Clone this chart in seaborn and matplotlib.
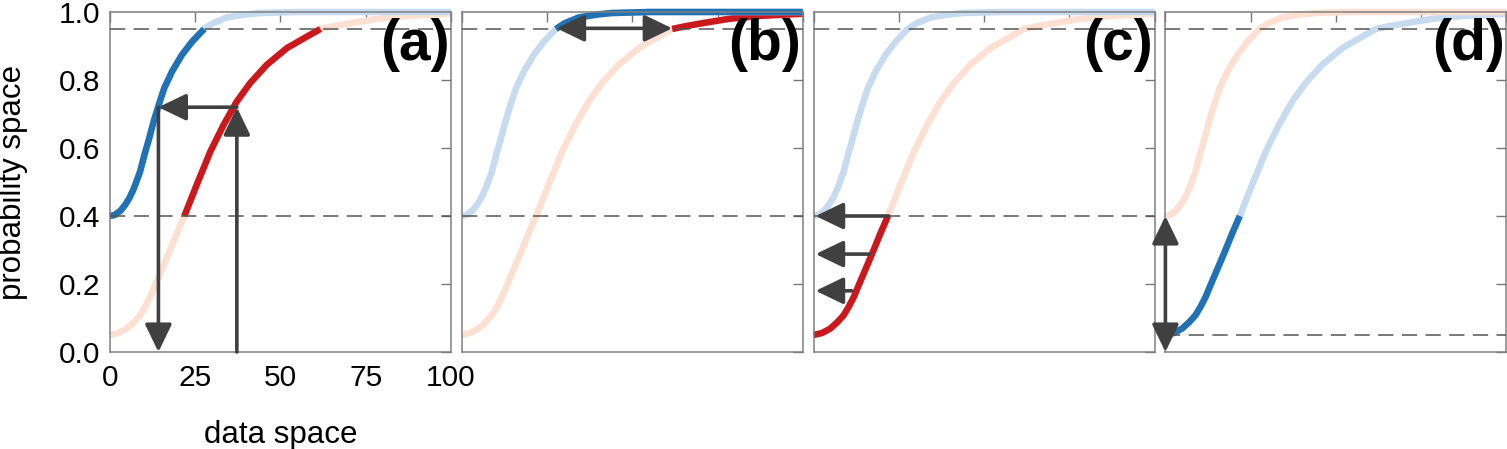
import numpy as np
import pandas as pd
import seaborn as sns
import matplotlib.pyplot as plt

# curve that starts at 0.4 (steep) and curve that starts at 0.05 (slow)
steep_x = [0, 1.4, 3, 4.4, 5.8, 7, 8.8, 10.1, 11.5, 12.8, 14.3, 15.9, 18.2, 21.1, 24.1, 27.6,
           30, 34.3, 40, 44, 55, 75, 100]
steep_y = [0.40, 0.403, 0.415, 0.432, 0.455, 0.481, 0.53, 0.58, 0.629, 0.678, 0.727, 0.776,
           0.825, 0.874, 0.913, 0.95, 0.966, 0.984, 0.993, 0.997, 1.0, 1.0, 1.0]

slow_x = [0, 2.5, 4.9, 7, 8.8, 10.3, 11.8, 13.2, 14.7, 17.2, 19.6, 21.8, 25.4, 29.4, 33.3,
          37.2, 41.1, 46, 51.9, 57.8, 61.7, 66, 70.5, 78.4, 88, 100]
slow_y = [0.05, 0.056, 0.069, 0.088, 0.108, 0.133, 0.162, 0.196, 0.231, 0.29, 0.349, 0.40,
          0.491, 0.589, 0.668, 0.737, 0.791, 0.845, 0.894, 0.928, 0.95, 0.959, 0.967, 0.98,
          0.989, 0.995]

panel_labels = ['(a)', '(b)', '(c)', '(d)']
x_ticks = [0, 25, 50, 75, 100]
y_ticks = [0.0, 0.2, 0.4, 0.6, 0.8, 1.0]

# dashed reference levels per panel
ref_levels = [[0.95, 0.4], [0.95, 0.4], [0.95, 0.4], [0.95, 0.05]]

# highlighted probability range per panel: (steep curve, slow curve)
highlight = [
    [(0.4, 0.95), (0.4, 0.95)],
    [(0.95, 1.0), (0.95, 1.0)],
    [None, (0.0, 0.4)],
    [None, (0.0, 0.4)],
]

# arrows per panel: (x_from, y_from, x_to, y_to, two_headed)
arrows = [
    [(37.2, 0.0, 37.2, 0.72, False), (37.2, 0.72, 14.2, 0.72, False), (14.2, 0.72, 14.2, 0.0, False)],
    [(27.8, 0.952, 61.7, 0.952, True)],
    [(22.0, 0.40, 0.6, 0.40, False), (16.4, 0.288, 0.6, 0.288, False), (11.2, 0.18, 0.6, 0.18, False)],
    [(0.0, 0.0, 0.0, 0.40, True)],
]

blue_dark, blue_light = '#2171b5', '#c6dbef'
red_dark, red_light = '#cb181d', '#fee0d2'

sns.set_style('white')
plt.rcParams['font.family'] = ['Liberation Sans', 'DejaVu Sans']
plt.rcParams['text.color'] = 'black'
plt.rcParams['axes.labelcolor'] = 'black'

steep = pd.DataFrame({'x': steep_x, 'y': steep_y})
slow = pd.DataFrame({'x': slow_x, 'y': slow_y})


def draw_curve(ax, df, light, dark, rng):
    sns.lineplot(data=df, x='x', y='y', ax=ax, color=light, linewidth=4.7,
                 estimator=None, sort=False, solid_capstyle='butt', clip_on=False)
    if rng is not None:
        sub = df[(df['y'] >= rng[0] - 1e-9) & (df['y'] <= rng[1] + 1e-9)]
        sns.lineplot(data=sub, x='x', y='y', ax=ax, color=dark, linewidth=4.7,
                     estimator=None, sort=False, solid_capstyle='butt', clip_on=False)


fig = plt.figure(figsize=(15.07, 4.49), dpi=100)
W, H = 1507, 449
for i in range(4):
    left = 110 + i * 351.8
    ax = fig.add_axes([left / W, 97 / H, 341 / W, 340 / H])
    if i < 3:
        steep_cols, slow_cols = (blue_light, blue_dark), (red_light, red_dark)
    else:
        steep_cols, slow_cols = (red_light, red_dark), (blue_light, blue_dark)
    draw_curve(ax, slow, slow_cols[0], slow_cols[1], highlight[i][1])
    draw_curve(ax, steep, steep_cols[0], steep_cols[1], highlight[i][0])

    for lv in ref_levels[i]:
        ax.axhline(lv, color='#555555', lw=1.1, linestyle=(0, (10, 5.5)), zorder=5)

    for (x0, y0, x1, y1, both) in arrows[i]:
        style = '<|-|>' if both else '-|>'
        ax.annotate('', xy=(x1, y1), xytext=(x0, y0), annotation_clip=False,
                    arrowprops=dict(arrowstyle=style + ',head_length=1.7,head_width=0.82',
                                    mutation_scale=10, color='#404040', lw=2.6,
                                    shrinkA=0, shrinkB=0), zorder=6)

    ax.text(0.996, 0.982, panel_labels[i], transform=ax.transAxes, ha='right', va='top',
            fontsize=41, fontweight='bold', color='black', zorder=7)

    ax.set_xlim(0, 100)
    ax.set_ylim(0, 1)
    ax.set_xticks(x_ticks)
    ax.set_yticks(y_ticks)
    ax.tick_params(direction='in', length=7, width=1, color='#777777', labelcolor='black',
                   top=True, right=True, labelsize=21.5)
    ax.tick_params(axis='x', pad=9)
    ax.tick_params(axis='y', pad=7)
    for sp in ax.spines.values():
        sp.set_color('#808080')
        sp.set_linewidth(1.1)
    if i == 0:
        ax.set_xticklabels([str(t) for t in x_ticks])
        ax.set_yticklabels(['%.1f' % t for t in y_ticks])
        ax.set_xlabel('data space', fontsize=22.5)
        ax.set_ylabel('probability space', fontsize=22.5)
        ax.xaxis.set_label_coords(0.5, -0.2)
        ax.yaxis.set_label_coords(-0.24, 0.5)
    else:
        ax.tick_params(labelleft=False, labelbottom=False)
        ax.set_xlabel('')
        ax.set_ylabel('')

fig.savefig('out.png', dpi=100, facecolor='white')
